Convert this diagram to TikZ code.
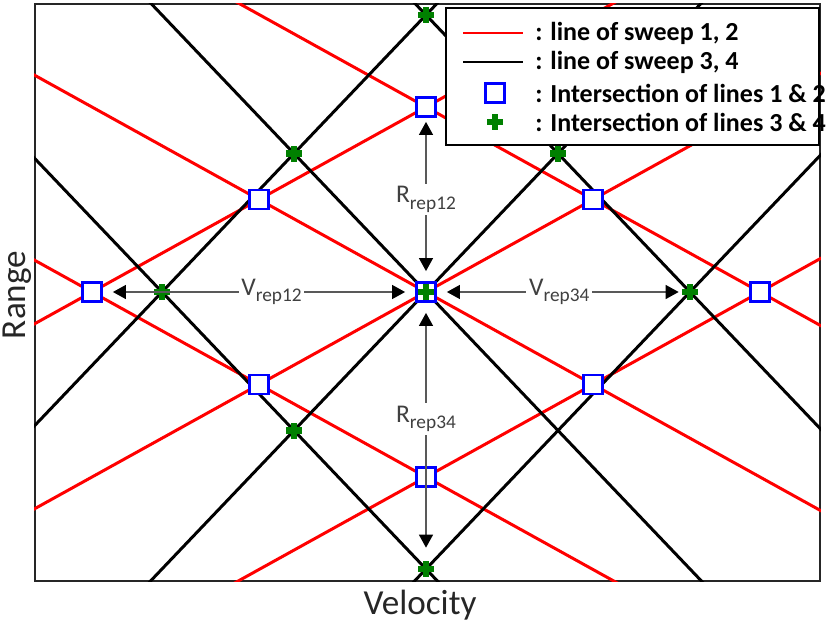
\documentclass[tikz,border=0pt]{standalone}
\usepackage{fontspec}
\setmainfont{Carlito}
\usetikzlibrary{arrows.meta}

\definecolor{plusgreen}{RGB}{0,128,0}
\newcommand{\repsub}[2]{#1\raisebox{-0.55ex}{\fontsize{11}{11}\selectfont rep#2}}

\tikzset{
  sweepA/.style={draw=red, line width=1.7pt},
  sweepB/.style={draw=black, line width=1.7pt},
  hitA/.style={draw=blue, fill=white, line width=1.6pt, minimum size=0.38cm,
               inner sep=0pt},
  hitB/.style={minimum size=0.32cm, inner sep=0pt, path picture={
      \fill[plusgreen] ([xshift=-0.065cm]path picture bounding box.south)
        rectangle ([xshift=0.065cm]path picture bounding box.north);
      \fill[plusgreen] ([yshift=-0.065cm]path picture bounding box.west)
        rectangle ([yshift=0.065cm]path picture bounding box.east);}},
  reparrow/.style={{Triangle[length=2.6mm,width=2.8mm,color=black]}-{Triangle[length=2.6mm,width=2.8mm,color=black]},
                   draw=black!65, line width=0.7pt},
  replab/.style={fill=white, text=black!75, inner sep=1.5pt,
                 font=\fontsize{14.5}{16}\selectfont},
  legtext/.style={anchor=west, inner sep=0pt, font=\fontsize{14.8}{17}\selectfont\bfseries},
}

\begin{document}
\begin{tikzpicture}
\useasboundingbox (-8.52,-6.68) rectangle (8.02,5.84);
\def\Va{6.68} \def\Ra{3.7} \def\Vb{5.28} \def\Rb{5.54}

\node[draw=black!85, line width=1.1pt, minimum width=15.7cm, minimum height=11.54cm,
      inner sep=0pt] (plot) at (0.03,-0.01) {};

% lines of the four sweeps
\begin{scope}
  \clip (plot.south west) rectangle (plot.north east);
  \foreach \n in {-1,0,1} {
    \draw[sweepA] (-9,{-9*\Ra/\Va+\n*\Ra}) -- (9,{9*\Ra/\Va+\n*\Ra});
    \draw[sweepA] (-9,{9*\Ra/\Va+\n*\Ra}) -- (9,{-9*\Ra/\Va+\n*\Ra});
  }
  \foreach \n in {-1,0,1} {
    \draw[sweepB] (-9,{-9*\Rb/\Vb+\n*\Rb}) -- (9,{9*\Rb/\Vb+\n*\Rb});
    \draw[sweepB] (-9,{9*\Rb/\Vb+\n*\Rb}) -- (9,{-9*\Rb/\Vb+\n*\Rb});
  }
\end{scope}

% intersections
\foreach \i/\j/\nm in {-1/0/l, 1/0/r, 0/1/t, 0/-1/b, -0.5/0.5/tl, 0.5/0.5/tr,
                       -0.5/-0.5/bl, 0.5/-0.5/br, 0/0/c} {
  \node[hitA] (a\nm) at ({\i*\Va},{\j*\Ra}) {};
}
\foreach \i/\j/\nm in {-1/0/l, 1/0/r, 0/1/t, 0/-1/b, -0.5/0.5/tl, 0.5/0.5/tr,
                       -0.5/-0.5/bl, 0/0/c} {
  \node[hitB] (b\nm) at ({\i*\Vb},{\j*\Rb}) {};
}

% repetition intervals
\draw[reparrow, shorten <=0.2cm, shorten >=0.2cm] (al) --
  node[replab, pos=0.54] {\repsub{V}{12}} (ac);
\draw[reparrow, shorten <=0.2cm, shorten >=0.06cm] (ac) --
  node[replab] {\repsub{V}{34}} (br);
\draw[reparrow, shorten <=0.08cm, shorten >=0.2cm] (at) --
  node[replab] {\repsub{R}{12}} (ac);
\draw[reparrow, shorten <=0.2cm, shorten >=0.26cm] (ac) --
  node[replab, pos=0.45] {\repsub{R}{34}} (bb);

\node[font=\fontsize{20}{24}\selectfont, text=black!85] (vel) at (-0.12,-6.26) {Velocity};
\node[font=\fontsize{20}{24}\selectfont, text=black!85, rotate=90] (rng) at (-8.18,-0.06) {Range};

% legend
\node[draw, fill=white, line width=1.1pt, anchor=north east, minimum width=7.46cm,
      minimum height=2.74cm, inner sep=0pt] (leg) at (7.88,5.70) {};
\draw[sweepA] (0.74,5.18) -- (1.94,5.18);
\draw[sweepB] (0.74,4.60) -- (1.94,4.60);
\node[hitA] (ka) at (1.38,3.98) {};
\node[hitB] (kb) at (1.38,3.40) {};
\node[legtext] (la) at (2.18,5.18) {: line of sweep 1, 2};
\node[legtext] (lb) at (2.18,4.60) {: line of sweep 3, 4};
\node[legtext] (lc) at (2.18,3.98) {: Intersection of lines 1 \& 2};
\node[legtext] (ld) at (2.18,3.40) {: Intersection of lines 3 \& 4};

\end{tikzpicture}
\end{document}
